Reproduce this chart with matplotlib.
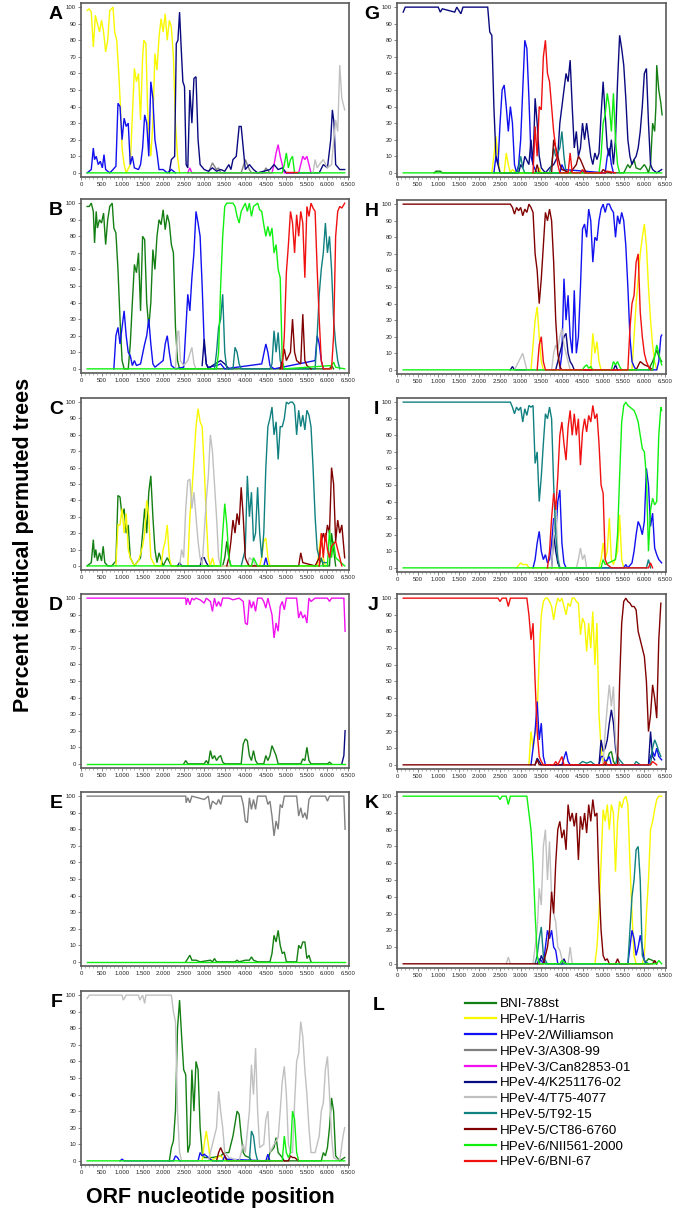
import matplotlib
matplotlib.use("Agg")
from matplotlib import pyplot as plt
from matplotlib.lines import Line2D
from matplotlib.ticker import MultipleLocator

plt.rcParams['font.family'] = ['Liberation Sans', 'DejaVu Sans']

strains = ['BNI-788st', 'HPeV-1/Harris', 'HPeV-2/Williamson', 'HPeV-3/A308-99',
           'HPeV-3/Can82853-01', 'HPeV-4/K251176-02', 'HPeV-4/T75-4077', 'HPeV-5/T92-15',
           'HPeV-5/CT86-6760', 'HPeV-6/NII561-2000', 'HPeV-6/BNI-67']
colors = ['#137f13', '#f8f800', '#1010f0', '#808080', '#f010f0', '#0a0a80', '#c0c0c0',
          '#108080', '#800000', '#10f010', '#f01010']

xticks = [0, 500, 1000, 1500, 2000, 2500, 3000, 3500, 4000, 4500, 5000, 5500, 6000, 6500]
xtick_labels = ['0', '500', '1.000', '1.500', '2.000', '2.500', '3.000', '3.500', '4.000',
                '4.500', '5.000', '5.500', '6.000', '6.500']
yticks = [0, 10, 20, 30, 40, 50, 60, 70, 80, 90, 100]

# ---- panel A ----
A_harris = ([150, 200, 250, 300, 350, 400, 450, 500, 550, 600, 650, 700, 780, 820, 870, 920, 960, 1000, 1050, 1100,
             1200, 1260, 1300, 1350, 1400, 1450, 1500, 1530, 1580, 1620, 1660, 1700, 1750, 1800, 1850, 1900, 1950,
             2000, 2050, 2100, 2150, 2200, 2250, 2300, 2350, 2400],
            [98, 99, 97, 76, 95, 90, 85, 92, 85, 73, 80, 98, 100, 85, 80, 60, 40, 15, 5, 0,
             5, 40, 63, 55, 60, 32, 70, 80, 78, 40, 20, 10, 30, 72, 62, 82, 93,
             85, 96, 80, 92, 88, 70, 30, 10, 0])
A_will = ([150, 250, 300, 330, 370, 420, 470, 520, 560, 600, 700, 780, 850, 900, 950, 1000, 1050, 1100, 1150, 1200,
           1250, 1300, 1400, 1450, 1500, 1550, 1600, 1650, 1700, 1750, 1800, 1850, 1900, 2000, 2100, 2200, 2300],
          [0, 2, 15, 8, 10, 5, 7, 3, 11, 2, 0, 2, 4, 42, 40, 20, 33, 28, 30, 5,
           10, 3, 2, 5, 15, 35, 30, 10, 55, 45, 20, 12, 2, 2, 0, 2, 0])
A_k25 = ([2150, 2200, 2280, 2320, 2360, 2400, 2440, 2480, 2520, 2560, 2600, 2650, 2700, 2750, 2800, 2850, 2900, 3000,
          3100, 3200, 3300, 3400, 3500, 3600, 3650, 3700, 3780, 3850, 3900, 3950, 4000, 4100, 4200, 4300, 4600, 4700,
          4800, 4900, 5000, 5800, 5900, 6000, 6080, 6120, 6160, 6200, 6300, 6420],
         [0, 8, 10, 78, 80, 97, 75, 55, 52, 5, 3, 50, 30, 57, 58, 20, 5, 2,
          1, 3, 1, 2, 1, 5, 2, 8, 10, 28, 28, 15, 2, 5, 2, 0, 2, 5,
          2, 3, 0, 0, 5, 3, 20, 38, 30, 5, 2, 2])
A_can = ([2600, 2650, 2700, 4650, 4700, 4750, 4800, 4850, 4900, 4950, 5300, 5350, 5400, 5450, 5500, 5550, 5600],
         [0, 3, 0, 0, 5, 12, 17, 10, 5, 0, 0, 5, 10, 8, 10, 5, 0])
A_a308 = ([3100, 3200, 3300, 3350, 3400, 3900, 4000, 4100, 4150, 4450, 4500, 4600],
          [0, 6, 2, 3, 0, 0, 8, 2, 0, 0, 3, 0])
A_t75 = ([5650, 5700, 5750, 5800, 5900, 6000, 6100, 6200, 6250, 6300, 6350, 6420],
         [0, 8, 3, 5, 8, 3, 5, 32, 25, 65, 45, 38])
A_nii = ([150, 4900, 4950, 5000, 5050, 5100, 5150, 5200, 6420],
         [0, 0, 5, 12, 3, 8, 10, 0, 0])
A_bni67 = ([4980, 5250], [0.8, 0.8])

# ---- panel B ----
B_bni = ([150, 200, 250, 300, 330, 370, 400, 450, 500, 550, 600, 650, 700, 760, 800, 850, 900, 950, 1000, 1050, 1150,
          1200, 1250, 1300, 1350, 1400, 1450, 1500, 1550, 1600, 1650, 1700, 1750, 1800, 1850, 1900, 1950, 2000, 2050,
          2100, 2150, 2200, 2250, 2300, 2350, 2400, 6050, 6100, 6150],
         [98, 98, 100, 95, 76, 95, 85, 90, 88, 94, 75, 90, 98, 100, 85, 82, 60, 30, 5, 0, 0,
          15, 40, 63, 58, 70, 35, 80, 78, 40, 25, 40, 72, 60, 80, 90, 87, 96, 84,
          93, 88, 75, 70, 25, 5, 0, 0, 2, 0])
B_will = ([800, 850, 900, 950, 1000, 1050, 1100, 1150, 1200, 1250, 1300, 1350, 1450, 1550, 1600, 1650, 1700, 1750,
           1800, 2000, 2050, 2100, 2150, 2200, 2300, 2500, 2600, 2650, 2700, 2750, 2800, 2850, 2900, 2950, 3000, 3050,
           3100, 3300, 3400, 3500, 4400, 4500, 4550, 4600, 4700, 5700, 5750, 5800, 5850, 5900],
          [0, 20, 25, 15, 25, 35, 20, 10, 8, 2, 5, 2, 3, 15, 20, 30, 15, 3,
           1, 5, 15, 20, 10, 2, 0, 1, 45, 35, 55, 70, 95, 88, 80, 50, 15, 3,
           1, 2, 3, 0, 3, 15, 10, 2, 0, 5, 20, 15, 5, 0])
B_t75 = ([2300, 2350, 2380, 2420, 2500, 2600, 2700, 2750, 2800],
         [0, 22, 23, 5, 2, 5, 13, 3, 0])
B_k25 = ([2950, 3000, 3050, 3100, 3200, 3400, 3500, 3600],
         [2, 18, 3, 0, 2, 5, 3, 0])
B_t92 = ([3250, 3300, 3350, 3400, 3450, 3500, 3550, 3700, 3750, 3800, 3850, 3900, 4600, 4650, 4700, 4750, 4800, 4850,
          4900, 5700, 5750, 5800, 5850, 5900, 5950, 6000, 6050, 6100, 6150, 6200, 6250, 6300],
         [0, 10, 25, 30, 45, 10, 0, 0, 13, 10, 3, 0, 0, 3, 23, 10, 22, 5,
          0, 0, 20, 45, 60, 70, 88, 70, 80, 60, 30, 15, 5, 0])
B_nii = ([150, 3300, 3350, 3400, 3450, 3500, 3550, 3600, 3700, 3750, 3800, 3850, 3900, 4000, 4050, 4100, 4150, 4200,
          4300, 4350, 4400, 4450, 4500, 4550, 4600, 4650, 4700, 4750, 4800, 4850, 4900, 4950, 6100, 6150, 6200, 6420],
         [0, 0, 10, 50, 80, 98, 100, 100, 100, 98, 92, 88, 95, 100, 95, 100, 92, 98,
          100, 96, 95, 87, 80, 86, 80, 85, 70, 75, 60, 55, 5, 0, 2, 4, 1, 0])
B_bni67 = ([4900, 4950, 5000, 5050, 5100, 5150, 5200, 5250, 5300, 5350, 5400, 5450, 5500, 5550, 5600, 5650, 5700,
            5750, 5800, 5850, 5900, 6100, 6150, 6200, 6250, 6300, 6350, 6420],
           [0, 20, 58, 75, 95, 88, 70, 93, 80, 95, 88, 55, 98, 92, 100, 97, 95,
            60, 30, 5, 0, 0, 20, 80, 95, 98, 97, 100])
B_ct86 = ([4850, 4900, 4950, 5000, 5100, 5150, 5200, 5250, 5350, 5400, 5450, 5500, 5600],
          [0, 5, 12, 5, 10, 30, 10, 5, 3, 33, 5, 2, 0])

# ---- panel C ----
C_bni = ([150, 250, 300, 330, 360, 400, 450, 500, 540, 580, 650, 750, 850, 900, 950, 1000, 1050, 1100, 1150, 1200,
          1300, 1450, 1550, 1600, 1650, 1700, 1750, 1800, 1850, 1900, 2000, 2100, 2200, 3450, 3500, 3550, 3600, 3650,
          5800, 5850, 5900, 6050, 6100, 6150, 6200],
         [0, 2, 16, 5, 10, 3, 8, 3, 12, 2, 0, 0, 3, 43, 42, 30, 35, 20, 25, 5,
          0, 5, 35, 20, 45, 55, 30, 10, 2, 8, 0, 5, 0, 0, 5, 15, 5, 0,
          0, 5, 0, 0, 20, 10, 0])
C_harris = ([850, 900, 950, 1000, 1050, 1100, 1150, 1200, 1300, 1400, 1500, 1550, 1600, 1650, 1700, 1800, 1950, 2000,
             2050, 2100, 2150, 2200, 2600, 2650, 2700, 2750, 2800, 2850, 2900, 2950, 3000, 3050, 3100, 3150, 3200,
             3250, 4350, 4400, 4450, 4500, 4550, 4600, 5750, 5800, 5850, 5900, 5950],
            [0, 25, 25, 35, 20, 32, 10, 5, 0, 3, 12, 20, 40, 30, 5, 0, 0, 10,
             15, 25, 5, 0, 0, 30, 45, 65, 85, 96, 88, 85, 60, 30, 5, 0, 5,
             0, 0, 5, 15, 17, 5, 0, 0, 10, 20, 5, 0])
C_t75 = ([2400, 2450, 2500, 2550, 2600, 2650, 2700, 2750, 2800, 2850, 2900, 2950, 3000, 3050, 3100, 3150, 3200, 3250,
          3300, 3350, 3400, 4050, 4100, 4200, 4250],
         [0, 10, 5, 35, 52, 53, 35, 45, 30, 15, 5, 0, 20, 40, 55, 80, 70, 50,
          30, 5, 0, 0, 5, 3, 0])
C_k25 = ([2350, 2400, 2450, 2900, 2950, 3000, 3050, 3100],
         [0, 2, 0, 0, 5, 5, 2, 0])
C_nii = ([150, 3400, 3450, 3500, 3550, 3600, 3650, 4150, 4200, 4300, 6000, 6050, 6100, 6150, 6200, 6420],
         [0, 0, 20, 38, 25, 5, 0, 0, 5, 0, 0, 22, 5, 15, 5, 0])
C_ct86 = ([3550, 3600, 3650, 3700, 3750, 3800, 3850, 3900, 3950, 4000, 4050, 4100, 5300, 5350, 5400, 5700, 5800,
           5850, 5900, 5950, 6000, 6050, 6100, 6150, 6200, 6250, 6300, 6350, 6420],
          [0, 5, 15, 28, 20, 32, 25, 48, 30, 5, 2, 0, 0, 8, 2, 0, 5,
           15, 20, 15, 25, 20, 60, 50, 15, 28, 20, 25, 5])
C_bni67 = ([5800, 5850, 5900, 5950, 6000, 6050, 6100, 6200, 6300, 6350],
           [0, 20, 5, 20, 10, 5, 12, 15, 5, 0])
C_t92 = ([3900, 3950, 4000, 4050, 4100, 4150, 4200, 4250, 4300, 4350, 4400, 4450, 4500, 4550, 4600, 4650, 4700, 4750,
          4800, 4850, 4900, 4950, 5000, 5050, 5100, 5150, 5200, 5250, 5300, 5350, 5400, 5450, 5500, 5550, 5600, 5650,
          5700, 5750, 5800, 5900, 6000],
         [0, 5, 10, 55, 30, 45, 15, 20, 48, 20, 5, 20, 60, 85, 90, 97, 80, 88,
          65, 85, 85, 90, 100, 99, 100, 100, 98, 80, 95, 85, 92, 83, 95, 92, 85, 60,
          30, 10, 5, 2, 2])
C_will = ([4450, 4500, 4550], [0, 5, 0])

# ---- panel D ----
D_can = ([150, 2550, 2560, 2600, 2650, 2700, 2750, 2800, 2900, 3000, 3050, 3150, 3200, 3250, 3300, 3350, 3400, 3450,
          3600, 3700, 3850, 3950, 4000, 4050, 4100, 4150, 4200, 4250, 4300, 4400, 4450, 4500, 4550, 4600, 4650, 4700,
          4750, 4800, 4850, 4900, 4950, 5000, 5250, 5300, 5350, 5400, 5450, 5500, 5550, 5600, 5700, 6000, 6050, 6100,
          6400, 6430],
         [100, 100, 96, 100, 96, 100, 99, 100, 99, 97, 100, 98, 92, 100, 95, 98, 95, 100,
          100, 99, 100, 98, 85, 84, 99, 94, 98, 92, 100, 100, 98, 94, 100, 95, 90, 76,
          85, 80, 95, 98, 93, 100, 100, 88, 92, 88, 90, 85, 100, 98, 100, 100, 98, 100,
          100, 80])
D_bni = ([2500, 2550, 2600, 3000, 3050, 3100, 3150, 3200, 3250, 3300, 3350, 3400, 3450, 3500, 3900, 3950, 4000, 4050,
          4100, 4150, 4200, 4250, 4300, 4450, 4500, 4550, 4600, 4650, 4700, 4750, 4800, 5350, 5400, 5450, 5500, 5550,
          5600, 6000, 6050, 6100],
         [0, 2, 0, 0, 2, 0, 8, 3, 5, 2, 4, 5, 1, 0, 0, 12, 15, 14,
          5, 2, 8, 2, 0, 0, 5, 2, 5, 11, 8, 5, 0, 0, 3, 2, 10, 2,
          0, 0, 1, 0])
D_k25 = ([6350, 6400, 6430], [0, 5, 20])
D_nii = ([150, 6420], [0, 0])

# ---- panel E ----
E_a308 = ([150, 2550, 2560, 2600, 2650, 2700, 3000, 3100, 3150, 3200, 3300, 3350, 3400, 3450, 3900, 3950, 4000, 4050,
           4100, 4150, 4200, 4250, 4300, 4500, 4550, 4600, 4650, 4700, 4750, 4800, 4850, 4900, 4950, 5250, 5300, 5350,
           5400, 5450, 5500, 5550, 5600, 5950, 6000, 6050, 6400, 6430],
          [100, 100, 96, 99, 96, 100, 98, 100, 92, 97, 95, 98, 95, 100, 100, 95, 85, 84,
           99, 92, 98, 92, 100, 100, 95, 97, 88, 76, 85, 80, 95, 93, 100, 100, 88, 93,
           87, 90, 86, 98, 100, 100, 97, 100, 100, 80])
E_bni = ([2550, 2600, 2650, 2700, 2800, 2900, 3150, 3200, 3250, 3300, 3750, 3800, 3850, 4000, 4100, 4150, 4200, 4300,
          4600, 4650, 4700, 4750, 4800, 4850, 4900, 4950, 5000, 5250, 5300, 5350, 5400, 5450, 5500, 5550, 5600],
         [0, 2, 4, 1, 1, 0, 1, 0, 2, 0, 0, 1, 0, 1, 1, 3, 1, 0,
          0, 5, 16, 12, 19, 10, 5, 6, 0, 0, 10, 8, 12, 12, 2, 4, 0])
E_nii = ([150, 6420], [0, 0])

# ---- panel F ----
F_t75 = ([150, 200, 1000, 1030, 1100, 1400, 1430, 1500, 1550, 1580, 1650, 2200, 2250, 2300, 2350, 2400, 2450, 3100,
          3200, 3300, 3350, 3400, 3450, 3500, 3600, 3850, 3950, 4000, 4100, 4150, 4200, 4250, 4300, 4350, 4450, 4500,
          4550, 4600, 4700, 4800, 4850, 4900, 4950, 5000, 5050, 5100, 5150, 5200, 5250, 5300, 5350, 5400, 5450, 5500,
          5550, 5600, 5700, 5800, 5850, 5900, 5950, 6000, 6050, 6100, 6150, 6300, 6380, 6420],
         [98, 100, 100, 97, 100, 100, 97, 100, 95, 100, 100, 100, 90, 84, 30, 5, 0, 0,
          10, 20, 42, 30, 20, 5, 2, 0, 10, 5, 30, 58, 40, 68, 30, 8, 10, 25,
          30, 5, 10, 14, 30, 48, 57, 40, 10, 5, 5, 35, 60, 65, 84, 75, 55, 40,
          20, 5, 5, 15, 30, 35, 55, 63, 40, 15, 2, 0, 15, 20])
F_bni = ([2150, 2200, 2250, 2300, 2350, 2400, 2450, 2500, 2550, 2600, 2650, 2700, 2750, 2800, 2850, 2900, 2950, 3000,
          3200, 3400, 3500, 3600, 3700, 3800, 3850, 3900, 3950, 4000, 4100, 4150, 4550, 4600, 4700, 4750, 4800, 4900,
          4950, 5850, 5900, 5950, 6000, 6050, 6100, 6150, 6200, 6300, 6420],
         [0, 8, 12, 30, 80, 97, 75, 55, 52, 5, 10, 55, 30, 60, 55, 20, 5, 2,
          2, 3, 5, 5, 15, 30, 28, 15, 5, 3, 2, 0, 0, 5, 8, 14, 5, 2,
          0, 0, 5, 3, 8, 20, 38, 30, 3, 0, 2])
F_harris = ([2950, 3000, 3050, 3100, 3150, 3300, 3400, 3500],
            [0, 10, 18, 10, 0, 2, 3, 0])
F_will = ([950, 1000, 1050, 2250, 2300, 2350, 2400, 2850, 2900, 2950, 3000, 3100, 3200, 3450, 3500, 3550, 4500, 4550,
           4600],
          [0, 1, 0, 0, 3, 2, 0, 0, 5, 3, 4, 2, 0, 0, 3, 1, 0, 4, 0])
F_ct86 = ([3300, 3350, 3400, 3450, 3500, 3550, 5050, 5100, 5150, 5200, 5300],
          [0, 5, 8, 5, 3, 0, 0, 3, 2, 2, 0])
F_t92 = ([4100, 4150, 4200, 4250, 4300], [0, 18, 15, 5, 0])
F_nii = ([150, 4900, 4950, 5000, 5050, 5100, 5150, 5200, 5250, 5300, 6420],
         [0, 0, 15, 5, 2, 5, 30, 25, 5, 0, 0])

# ---- panel G ----
G_k25 = ([150, 200, 1000, 1050, 1100, 1400, 1450, 1550, 1600, 2200, 2250, 2300, 2350, 2400, 2450, 2500, 2950, 3000,
          3050, 3100, 3200, 3250, 3300, 3350, 3400, 3450, 3500, 3600, 3700, 3800, 3900, 3950, 4050, 4100, 4150, 4200,
          4250, 4300, 4350, 4400, 4450, 4500, 4550, 4600, 4650, 4700, 4750, 4800, 4850, 4900, 4950, 5000, 5050, 5100,
          5150, 5200, 5250, 5300, 5350, 5400, 5450, 5500, 5550, 5600, 5650, 5700, 5750, 5800, 5850, 5900, 5950, 6000,
          6050, 6100, 6150, 6200, 6300, 6420],
         [97, 100, 100, 97, 99, 97, 100, 96, 100, 100, 85, 83, 40, 10, 5, 0, 0, 5,
          3, 10, 5, 20, 5, 45, 30, 10, 3, 0, 3, 5, 10, 30, 50, 60, 55, 68,
          40, 15, 25, 10, 15, 30, 20, 30, 20, 10, 5, 12, 8, 12, 35, 55, 35, 15,
          10, 20, 5, 20, 55, 83, 75, 65, 45, 20, 10, 5, 8, 10, 15, 25, 40, 60,
          63, 30, 5, 2, 0, 2])
G_will = ([2350, 2400, 2450, 2500, 2550, 2600, 2650, 2700, 2750, 2800, 2850, 2900, 2950, 3000, 3050, 3100, 3150, 3200,
           3250, 3300, 3350, 3400, 3950, 4000, 4050, 5050, 5100, 5150, 5200, 5250],
          [0, 10, 5, 30, 50, 53, 40, 25, 40, 30, 5, 0, 5, 20, 50, 80, 75, 45,
           10, 5, 2, 0, 0, 5, 2, 0, 10, 15, 5, 0])
G_harris = ([2300, 2350, 2400, 2450, 2500, 2600, 2650, 2700, 2750, 2800, 2900, 3400, 3450, 3500],
            [0, 10, 22, 10, 0, 0, 12, 5, 0, 2, 0, 0, 3, 0])
G_bni67 = ([3300, 3350, 3400, 3450, 3500, 3550, 3600, 3650, 3700, 3750, 3800, 3850, 3900, 3950, 4150, 4200, 4250,
            4450, 4500, 4550, 5050, 5100, 5300],
           [0, 28, 10, 40, 38, 70, 80, 60, 55, 40, 25, 15, 5, 0, 0, 12, 0,
            0, 2, 0, 0, 1, 0])
G_t92 = ([2900, 2950, 3000, 3050, 3100, 3700, 3750, 3800, 3850, 3900, 3950, 4000, 4050, 4100],
         [0, 3, 10, 3, 0, 0, 5, 15, 10, 12, 15, 25, 10, 0])
G_ct86 = ([3350, 3400, 3450, 3750, 3800, 3850, 3900, 3950, 4000, 4200, 4350, 4400, 4450, 4500, 4550, 4600, 4950, 5000,
           5050, 5200],
          [0, 5, 0, 0, 20, 15, 10, 5, 2, 0, 5, 10, 8, 5, 2, 0, 0, 2, 1, 0])
G_nii = ([150, 4900, 4950, 5000, 5050, 5100, 5150, 5200, 5250, 5300, 5350, 5400, 6420],
         [0, 0, 10, 30, 35, 48, 40, 25, 48, 20, 5, 0, 0])
G_bni = ([900, 950, 1050, 1100, 5500, 5600, 5650, 5750, 5800, 5900, 6000, 6050, 6100, 6150, 6200, 6250, 6280, 6300,
          6350, 6400, 6430],
         [0, 1, 1, 0, 0, 5, 3, 8, 3, 2, 5, 3, 0, 5, 30, 25, 40, 65, 50, 42, 35])

# ---- panel H ----
H_ct86 = ([150, 2750, 2800, 2850, 2900, 2950, 3000, 3050, 3100, 3150, 3200, 3250, 3300, 3350, 3400, 3450, 3500, 3550,
           3600, 3650, 3700, 3750, 3800, 3850, 3900, 3950, 4000, 5800, 5900, 6000, 6100, 6200],
          [100, 100, 98, 94, 98, 96, 98, 93, 97, 95, 100, 98, 95, 70, 60, 40, 55, 75,
           95, 90, 97, 90, 65, 30, 10, 2, 0, 0, 5, 3, 2, 0])
H_harris = ([3250, 3300, 3350, 3400, 3450, 3500, 3550, 4700, 4750, 4800, 4850, 4900, 4950, 5700, 5750, 5800, 5850,
             5900, 5950, 6000, 6050, 6100, 6150, 6200, 6250, 6300],
            [0, 15, 30, 38, 20, 5, 0, 0, 22, 10, 17, 5, 0, 0, 20, 40, 55,
             70, 80, 88, 75, 50, 30, 15, 5, 0])
H_bni67 = ([3400, 3450, 3500, 3550, 3600, 5600, 5650, 5700, 5750, 5800, 5850, 5900, 5950, 6000, 6050, 6100, 6150],
           [0, 15, 20, 5, 0, 0, 25, 40, 45, 65, 70, 35, 20, 10, 5, 2, 0])
H_t75 = ([2850, 2950, 3050, 3100, 3150, 3750, 3800, 3850, 3900, 3950, 4000, 4050, 4100, 4150, 4200],
         [0, 5, 10, 5, 0, 0, 10, 15, 12, 20, 25, 15, 10, 5, 0])
H_k25 = ([2750, 2800, 2850, 3850, 3900, 3950, 4000, 4050, 4100, 4150, 4200, 4250, 4300, 5250, 5300, 5350],
         [0, 2, 0, 0, 5, 10, 15, 20, 22, 10, 5, 3, 0, 0, 3, 0])
H_will = ([3950, 4000, 4050, 4100, 4150, 4200, 4250, 4300, 4350, 4400, 4450, 4500, 4550, 4600, 4650, 4700, 4750, 4800,
           4850, 4900, 4950, 5000, 5050, 5100, 5150, 5200, 5250, 5300, 5350, 5400, 5450, 5500, 5550, 5600, 5650, 5700,
           5750, 5800, 6300, 6350, 6400, 6420],
          [0, 10, 55, 30, 45, 20, 10, 48, 10, 20, 50, 85, 88, 80, 97, 90, 65, 80,
           78, 90, 97, 100, 95, 100, 100, 97, 95, 80, 93, 88, 95, 90, 75, 50, 20, 5,
           2, 0, 0, 5, 20, 21])
H_nii = ([150, 4500, 4550, 4600, 4650, 4700, 4750, 5200, 5250, 5300, 5350, 5400, 5450, 6200, 6250, 6300, 6350, 6400,
          6420],
         [0, 0, 2, 3, 1, 2, 0, 0, 5, 3, 5, 2, 0, 0, 8, 15, 10, 5, 3])
H_bni = ([6100, 6200, 6300, 6350, 6420], [0, 5, 12, 8, 5])

# ---- panel I ----
I_t92 = ([150, 2750, 2800, 2850, 2900, 2950, 3000, 3050, 3100, 3150, 3200, 3250, 3300, 3350, 3400, 3450, 3500, 3550,
          3600, 3650, 3700, 3750, 3800, 3850, 3900, 3950, 6050, 6100, 6150],
         [100, 100, 97, 93, 97, 95, 97, 88, 96, 92, 98, 97, 98, 63, 70, 40, 55, 75,
          93, 90, 97, 90, 50, 20, 5, 0, 0, 5, 0])
I_will = ([3300, 3350, 3400, 3450, 3500, 3550, 3600, 3650, 3700, 3750, 3800, 3850, 3900, 3950, 4000, 4050, 4100, 5500,
           5550, 5600, 5700, 5750, 5800, 5850, 5900, 5950, 6000, 6050, 6100, 6150, 6200, 6250, 6300, 6350, 6420],
          [0, 5, 15, 22, 10, 5, 8, 3, 5, 15, 30, 20, 40, 47, 15, 3, 0, 0,
           2, 0, 3, 10, 20, 28, 25, 20, 28, 60, 50, 25, 33, 12, 8, 5, 3])
I_bni67 = ([3650, 3700, 3750, 3800, 3850, 3900, 3950, 4000, 4050, 4100, 4150, 4200, 4250, 4300, 4350, 4400, 4450,
            4500, 4550, 4600, 4650, 4700, 4750, 4800, 4850, 4900, 4950, 5000, 5050, 5100, 5200, 6100, 6150, 6200],
           [0, 10, 30, 45, 35, 55, 80, 88, 75, 65, 85, 95, 80, 93, 80, 90, 62,
            82, 90, 82, 92, 88, 98, 90, 93, 75, 50, 45, 5, 2, 0, 0, 3, 0])
I_t75 = ([3750, 3800, 3850, 3900, 3950, 4350, 4400, 4450, 4500, 4550, 4600],
         [0, 20, 40, 8, 0, 0, 5, 12, 5, 8, 0])
I_k25 = ([3750, 3800, 3850, 3900, 3950], [0, 20, 10, 3, 0])
I_harris = ([2900, 3000, 3050, 3150, 3200, 4900, 4950, 5000, 5050, 5100, 5150, 5200, 5250, 5350, 5400, 5450, 5500],
            [0, 3, 2, 2, 0, 0, 5, 15, 5, 10, 30, 5, 2, 10, 32, 5, 0])
I_nii = ([150, 4950, 5000, 5050, 5300, 5350, 5400, 5450, 5500, 5550, 5600, 5650, 5700, 5750, 5800, 5850, 5900, 5950,
          6000, 6050, 6100, 6150, 6200, 6250, 6300, 6350, 6400, 6420],
         [0, 0, 5, 2, 5, 20, 55, 88, 98, 100, 98, 97, 96, 95, 92, 88, 80, 72,
          70, 55, 10, 35, 42, 38, 40, 80, 97, 95])

# ---- panel J ----
J_bni67 = ([150, 2450, 2500, 2550, 2650, 2700, 2750, 3150, 3200, 3250, 3300, 3350, 3400, 3450, 3500, 3550, 3800,
            3850, 3900, 4000, 4050, 5000, 5050, 5100, 6150, 6200, 6300],
           [100, 100, 98, 100, 100, 95, 100, 100, 90, 75, 85, 50, 20, 5, 2, 0, 0,
            2, 0, 5, 0, 0, 2, 0, 0, 2, 0])
J_harris = ([3200, 3250, 3300, 3350, 3400, 3450, 3500, 3550, 3600, 3650, 3700, 3750, 3800, 3850, 3900, 3950, 4000,
             4050, 4100, 4150, 4200, 4250, 4300, 4350, 4400, 4450, 4500, 4550, 4600, 4650, 4700, 4750, 4800, 4850,
             4900, 4950, 5000],
            [0, 20, 10, 20, 30, 65, 90, 98, 100, 100, 98, 95, 87, 95, 100, 98, 100,
             95, 90, 97, 95, 100, 100, 98, 97, 78, 88, 85, 68, 85, 70, 92, 60, 85,
             30, 10, 0])
J_will = ([3250, 3300, 3350, 3400, 3450, 3500, 3550, 3600, 4000, 4100, 4150, 4200, 4900, 4950, 5000, 5050, 5100, 5150,
           5200, 6100, 6150, 6200, 6250, 6300, 6350, 6420],
          [0, 10, 20, 38, 15, 25, 5, 0, 0, 8, 2, 0, 0, 5, 5, 2, 3, 5,
           0, 0, 5, 8, 5, 10, 5, 3])
J_k25 = ([3350, 3400, 3450, 3500, 4900, 4950, 5000, 5050, 5100, 5150, 5200, 5250, 5300, 5350, 5400, 6100, 6150, 6200,
          6250],
         [0, 4, 2, 0, 0, 15, 8, 10, 15, 25, 33, 25, 10, 3, 0, 0, 20, 5, 3])
J_t75 = ([5000, 5050, 5100, 5150, 5200, 5250, 5300, 5350, 5400],
         [0, 20, 35, 48, 35, 47, 15, 2, 0])
J_bni = ([5050, 5100, 5150, 5200, 5250, 5300], [0, 3, 7, 8, 2, 0])
J_t92 = ([4400, 4500, 4600, 4700, 4800, 5300, 5350, 5400, 5500, 5750, 5800, 5900, 6150, 6200, 6250, 6300, 6350, 6400],
         [0, 2, 1, 2, 0, 0, 5, 3, 0, 0, 2, 0, 0, 10, 15, 12, 8, 5])
J_ct86 = ([150, 3350, 3400, 3450, 5350, 5400, 5450, 5500, 5550, 5600, 5650, 5700, 5750, 5800, 5850, 5900, 5950, 6000,
           6050, 6100, 6150, 6200, 6250, 6300, 6350, 6400],
          [0, 0, 3, 0, 0, 50, 85, 98, 100, 98, 97, 95, 95, 93, 80, 75, 70, 65,
           50, 20, 30, 48, 40, 28, 75, 97])

# ---- panel K ----
K_nii = ([150, 2450, 2500, 2550, 2650, 2700, 2750, 3150, 3200, 3250, 3300, 3350, 3400, 3450, 3950, 4000, 4100, 6300,
          6350, 6420],
         [100, 100, 98, 100, 100, 95, 100, 100, 90, 80, 60, 30, 5, 0, 0, 2, 0, 0, 2, 0])
K_t75 = ([2650, 2700, 2750, 3300, 3350, 3400, 3450, 3500, 3550, 3600, 3650, 3700, 3750, 3800, 3850, 3900, 3950, 4000,
          4050, 4150, 4200, 4250],
         [0, 4, 0, 0, 10, 20, 45, 35, 70, 80, 50, 73, 40, 30, 25, 10, 8, 3,
          0, 0, 10, 0])
K_t92 = ([3350, 3400, 3450, 3500, 3550, 3600, 3650, 5600, 5650, 5700, 5750, 5800, 5850, 5900, 5950, 6000, 6100],
         [0, 5, 15, 22, 5, 2, 0, 0, 20, 40, 50, 68, 70, 50, 5, 2, 0])
K_will = ([3400, 3450, 3500, 3550, 3600, 3650, 3700, 3750, 3800, 3850, 3900, 5600, 5650, 5700, 5750, 5800, 5850, 5900,
           5950, 6000, 6050],
          [0, 3, 2, 0, 10, 20, 15, 20, 10, 8, 0, 0, 10, 20, 15, 5, 10, 17, 10, 2, 0])
K_ct86 = ([150, 3550, 3600, 3650, 3700, 3750, 3800, 3850, 3900, 3950, 4000, 4050, 4100, 4150, 4200, 4250, 4300, 4350,
           4400, 4450, 4500, 4550, 4600, 4650, 4700, 4750, 4800, 4850, 4900, 4950, 5000, 5050, 5100, 5150, 5300, 5350,
           5400, 6200, 6250, 6300],
          [0, 0, 5, 10, 20, 43, 30, 60, 80, 85, 75, 80, 68, 95, 85, 90, 82, 90,
           62, 88, 80, 90, 78, 95, 85, 98, 88, 90, 48, 20, 5, 2, 3, 0, 0, 3,
           0, 0, 2, 0])
K_harris = ([4800, 4850, 4900, 4950, 5000, 5050, 5100, 5150, 5200, 5250, 5300, 5350, 5400, 5450, 5500, 5550, 5600,
             5650, 5700, 5750, 5800, 5950, 6000, 6050, 6100, 6150, 6200, 6250, 6300, 6350, 6420],
            [0, 10, 30, 60, 92, 85, 95, 80, 95, 90, 55, 85, 97, 93, 98, 100, 95,
             60, 30, 5, 0, 0, 5, 30, 50, 80, 85, 92, 98, 100, 100])
K_bni = ([6000, 6100, 6200, 6300], [0, 3, 2, 0])
K_k25 = ([3450, 3500, 3550, 3600, 4000, 4050, 4100], [0, 5, 2, 0, 0, 3, 0])

# traces per panel, keyed by index into strains
panels = {
    'A': {1: A_harris, 2: A_will, 3: A_a308, 4: A_can, 5: A_k25, 6: A_t75, 9: A_nii, 10: A_bni67},
    'B': {0: B_bni, 2: B_will, 5: B_k25, 6: B_t75, 7: B_t92, 8: B_ct86, 9: B_nii, 10: B_bni67},
    'C': {0: C_bni, 1: C_harris, 2: C_will, 5: C_k25, 6: C_t75, 7: C_t92, 8: C_ct86, 9: C_nii, 10: C_bni67},
    'D': {0: D_bni, 4: D_can, 5: D_k25, 9: D_nii},
    'E': {0: E_bni, 3: E_a308, 9: E_nii},
    'F': {0: F_bni, 1: F_harris, 2: F_will, 6: F_t75, 7: F_t92, 8: F_ct86, 9: F_nii},
    'G': {0: G_bni, 1: G_harris, 2: G_will, 5: G_k25, 7: G_t92, 8: G_ct86, 9: G_nii, 10: G_bni67},
    'H': {0: H_bni, 1: H_harris, 2: H_will, 5: H_k25, 6: H_t75, 8: H_ct86, 9: H_nii, 10: H_bni67},
    'I': {1: I_harris, 2: I_will, 5: I_k25, 6: I_t75, 7: I_t92, 9: I_nii, 10: I_bni67},
    'J': {0: J_bni, 1: J_harris, 2: J_will, 5: J_k25, 6: J_t75, 7: J_t92, 8: J_ct86, 10: J_bni67},
    'K': {0: K_bni, 1: K_harris, 2: K_will, 5: K_k25, 6: K_t75, 7: K_t92, 8: K_ct86, 9: K_nii},
}

W, H = 685, 1217
# frame (left, right, top, bottom) in pixels
frames = {
    'A': (81, 349, 3, 177), 'B': (81, 349, 199, 373), 'C': (81, 349, 398, 570),
    'D': (81, 349, 594, 768), 'E': (81, 349, 792, 966), 'F': (81, 349, 991, 1165),
    'G': (397, 666, 3, 177), 'H': (397, 666, 200, 374), 'I': (397, 666, 398, 572),
    'J': (397, 666, 594, 769), 'K': (397, 666, 792, 968),
}

fig = plt.figure(figsize=(W / 100, H / 100), dpi=100)

for name, traces in panels.items():
    l, r, t, b = frames[name]
    ax = fig.add_axes([l / W, 1 - b / H, (r - l) / W, (b - t) / H])
    for k in sorted(traces):
        xs, ys = traces[k]
        ax.plot(xs, ys, color=colors[k], lw=1.0, solid_joinstyle='miter')
    ax.set_xlim(0, 6525)
    ax.set_ylim(-2.5, 102.5)
    ax.set_xticks(xticks)
    ax.set_xticklabels(xtick_labels)
    ax.set_yticks(yticks)
    ax.xaxis.set_minor_locator(MultipleLocator(100))
    ax.tick_params(which='major', labelsize=4.3, length=2, width=0.5, pad=1.5,
                   color='#555555', labelcolor='#222222')
    ax.tick_params(which='minor', length=1.2, width=0.4, color='#777777')
    for sp in ax.spines.values():
        sp.set_color('#5a5a5a')
        sp.set_linewidth(1.2)
    ax.annotate(name, xy=(0, 1), xycoords='axes fraction', xytext=(-18, -3),
                textcoords='offset pixels', ha='right', va='top',
                fontsize=14, fontweight='bold')

fig.text(385 / W, 1 - 997 / H, 'L', ha='right', va='top', fontsize=14, fontweight='bold')

handles = [Line2D([], [], color=c, lw=1.6) for c in colors]
fig.legend(handles, strains, loc='upper left', bbox_to_anchor=(465 / W, 1 - 998 / H),
           frameon=False, fontsize=9.6, handlelength=2.35, handletextpad=0.3,
           labelspacing=0.26, borderpad=0, borderaxespad=0)

fig.text(24 / W, 1 - 545 / H, 'Percent identical permuted trees', rotation=90,
         ha='center', va='center', fontsize=15.5, fontweight='bold')
fig.text(210 / W, 1 - 1197 / H, 'ORF nucleotide position', ha='center', va='center',
         fontsize=15.5, fontweight='bold')

fig.savefig('out.png', dpi=100)
